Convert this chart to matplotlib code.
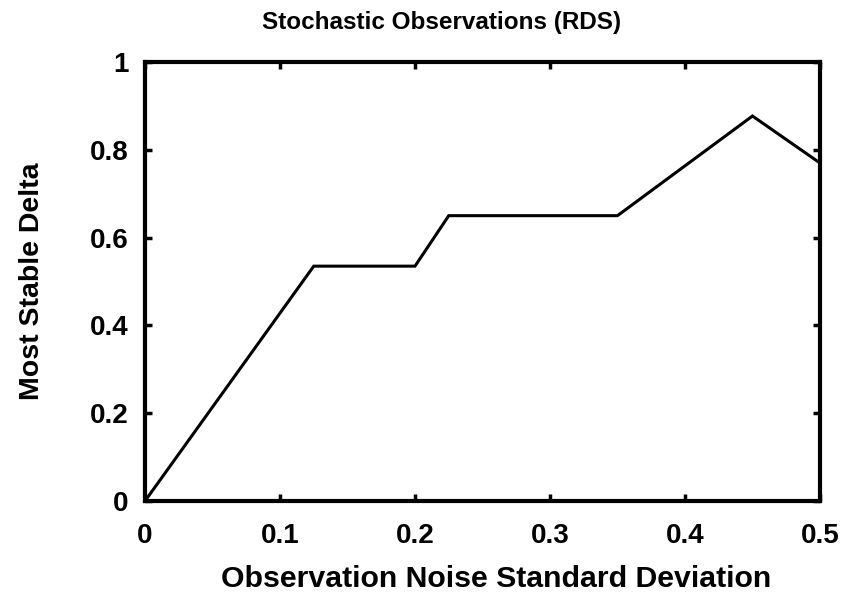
import matplotlib
matplotlib.use("Agg")
import matplotlib.pyplot as plt

# data
noise_std = [0.0, 0.125, 0.2, 0.225, 0.35, 0.45, 0.5]
stable_delta = [0.0, 0.535, 0.535, 0.65, 0.65, 0.877, 0.77]
x_ticks = [0, 0.1, 0.2, 0.3, 0.4, 0.5]
x_labels = ["0", "0.1", "0.2", "0.3", "0.4", "0.5"]
y_ticks = [0, 0.2, 0.4, 0.6, 0.8, 1.0]
y_labels = ["0", "0.2", "0.4", "0.6", "0.8", "1"]

plt.rcParams['font.family'] = ['Liberation Sans', 'DejaVu Sans']
plt.rcParams['font.weight'] = 'bold'

fig = plt.figure(figsize=(8.49, 5.97), dpi=100)
ax = fig.add_axes([0.1708, 0.1608, 0.795, 0.7353])

ax.plot(noise_std, stable_delta, color="black", linewidth=2.2, solid_joinstyle="miter")

ax.set_xlim(0, 0.5)
ax.set_ylim(0, 1)
ax.set_xticks(x_ticks)
ax.set_xticklabels(x_labels)
ax.set_yticks(y_ticks)
ax.set_yticklabels(y_labels)
ax.tick_params(direction="in", length=5, width=2.5, top=True, right=True, labelsize=20)
ax.tick_params(axis="x", pad=16)
ax.tick_params(axis="y", pad=12)
for lbl in ax.get_xticklabels() + ax.get_yticklabels():
    lbl.set_fontweight("bold")
for sp in ax.spines.values():
    sp.set_linewidth(3)

# title sits a bit left of the axes centre in the original
ax.set_title("Stochastic Observations (RDS)", fontsize=17.5, fontweight="bold", pad=24, x=0.44)
ax.set_xlabel("Observation Noise Standard Deviation", fontsize=21.8, fontweight="bold", labelpad=11)
ax.xaxis.label.set_x(0.52)
ax.set_ylabel("Most Stable Delta", fontsize=20.5, fontweight="bold", labelpad=32)

fig.savefig("out.png", dpi=100)
